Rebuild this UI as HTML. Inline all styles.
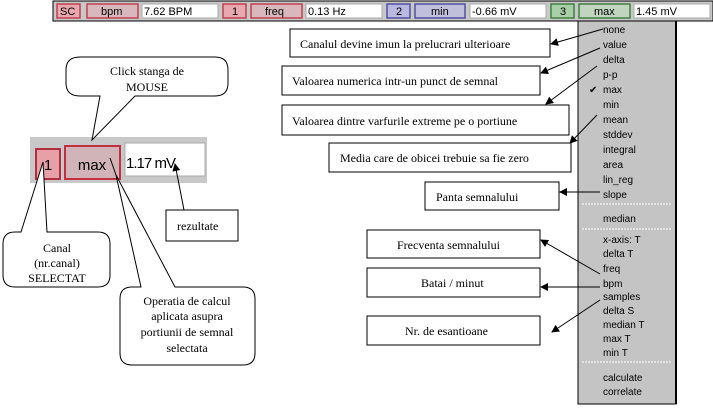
<!DOCTYPE html>
<html><head><meta charset="utf-8"><style>
html,body{margin:0;padding:0;background:#fff;}
svg{display:block;}
.s{font-family:"Liberation Serif",serif;font-size:12px;fill:#000;}
.m{font-family:"Liberation Sans",sans-serif;font-size:10px;fill:#000;}
.t{font-family:"Liberation Sans",sans-serif;font-size:11px;fill:#000;}
.w{font-family:"Liberation Sans",sans-serif;font-size:15px;fill:#000;}
</style></head><body>
<svg width="713" height="413" viewBox="0 0 713 413" xmlns="http://www.w3.org/2000/svg">
<defs><marker id="a" markerWidth="8" markerHeight="8" refX="7" refY="4" orient="auto" markerUnits="userSpaceOnUse"><path d="M0,0 L8,4 L0,8 z" fill="#000"/></marker></defs>
<rect x="53" y="1" width="660" height="20" fill="#c8c8c8" stroke="#000" stroke-width="1"/>
<g stroke="#c04050" stroke-width="1.5">
<rect x="57" y="4" width="23" height="14" fill="#e8a8b0"/>
<rect x="87" y="4" width="51" height="14" fill="#d8b8bc"/>
<rect x="223" y="4" width="23" height="14" fill="#e8a8b0"/>
<rect x="251" y="4" width="51" height="14" fill="#d8b8bc"/>
</g>
<g stroke="#5050a0" stroke-width="1.5">
<rect x="387" y="4" width="23" height="14" fill="#b8b8e0"/>
<rect x="415" y="4" width="50" height="14" fill="#c0c0dc"/>
</g>
<g stroke="#408040" stroke-width="1.5">
<rect x="551" y="4" width="23" height="14" fill="#a8d0a8"/>
<rect x="579" y="4" width="51" height="14" fill="#c0d4c0"/>
</g>
<g fill="#fff" stroke="#aaa"><rect x="142" y="4" width="76" height="14"/><rect x="306" y="4" width="76" height="14"/><rect x="470" y="4" width="76" height="14"/><rect x="634" y="4" width="76" height="14"/></g>
<text class="t" x="60" y="15">SC</text><text class="t" x="101" y="15">bpm</text><text class="t" x="144" y="15">7.62 BPM</text>
<text class="t" x="232" y="15">1</text><text class="t" x="265" y="15">freq</text><text class="t" x="308" y="15">0.13 Hz</text>
<text class="t" x="396" y="15">2</text><text class="t" x="431" y="15">min</text><text class="t" x="472" y="15">-0.66 mV</text>
<text class="t" x="560" y="15">3</text><text class="t" x="594" y="15">max</text><text class="t" x="636" y="15">1.45 mV</text>
<rect x="578" y="21" width="98" height="383" fill="#c4c4c4" stroke="#000" stroke-width="1"/>
<line x1="676" y1="21" x2="676" y2="404" stroke="#000" stroke-width="2"/>
<g stroke="#fff" stroke-dasharray="2,1"><line x1="582" y1="204" x2="672" y2="204"/><line x1="582" y1="229" x2="672" y2="229"/><line x1="582" y1="362" x2="672" y2="362"/></g>
<g class="m">
<text x="603" y="33">none</text><text x="603" y="48">value</text><text x="603" y="63">delta</text><text x="603" y="78">p-p</text>
<text x="603" y="93">max</text><text x="603" y="108">min</text><text x="603" y="123">mean</text><text x="603" y="138">stddev</text>
<text x="603" y="153">integral</text><text x="603" y="168">area</text><text x="603" y="183">lin_reg</text><text x="603" y="198">slope</text>
<text x="603" y="222">median</text>
<text x="603" y="243">x-axis: T</text><text x="603" y="257">delta T</text><text x="603" y="272">freq</text><text x="603" y="287">bpm</text>
<text x="603" y="300">samples</text><text x="603" y="314">delta S</text><text x="603" y="328">median T</text><text x="603" y="342">max T</text><text x="603" y="356">min T</text>
<text x="603" y="381">calculate</text><text x="603" y="395">correlate</text>
</g>
<text x="589" y="93" style="font-size:10px;font-family:'DejaVu Sans',sans-serif">✔</text>
<g fill="#fff" stroke="#000">
<rect x="290" y="29" width="260" height="28"/>
<rect x="282" y="66" width="258" height="29"/>
<rect x="282" y="105" width="287" height="30"/>
<rect x="329" y="143" width="242" height="29"/>
<rect x="425" y="182" width="134" height="28"/>
<rect x="367" y="230" width="173" height="28"/>
<rect x="367" y="268" width="173" height="29"/>
<rect x="367" y="316" width="173" height="29"/>
</g>
<g class="s">
<text x="300" y="48">Canalul devine imun la prelucrari ulterioare</text>
<text x="292" y="85">Valoarea numerica intr-un punct de semnal</text>
<text x="292" y="125">Valoarea dintre varfurile extreme pe o portiune</text>
<text x="340" y="162">Media care de obicei trebuie sa fie zero</text>
<text x="436" y="201">Panta semnalului</text>
<text x="397" y="249">Frecventa semnalului</text>
<text x="421" y="287">Batai / minut</text>
<text x="405" y="335">Nr. de esantioane</text>
</g>
<g stroke="#000" fill="none" marker-end="url(#a)">
<line x1="603" y1="29" x2="551" y2="44"/>
<line x1="600" y1="48" x2="541" y2="73"/>
<line x1="597" y1="66" x2="546" y2="104"/>
<line x1="597" y1="115" x2="570" y2="143"/>
<line x1="600" y1="192" x2="560" y2="192"/>
<line x1="600" y1="274" x2="541" y2="240"/>
<line x1="600" y1="287" x2="541" y2="287"/>
<line x1="600" y1="300" x2="552" y2="332"/>
</g>
<rect x="30" y="137" width="177" height="46" fill="#c8c8c8"/>
<rect x="36" y="149" width="24" height="30" fill="#e8a0a8" stroke="#b03040" stroke-width="2"/>
<rect x="65" y="146" width="55" height="33" fill="#d0b4b8" stroke="#c03040" stroke-width="2"/>
<rect x="125" y="143" width="80" height="33" fill="#fff" stroke="#aaa"/>
<text class="w" x="48" y="170" text-anchor="middle">1</text>
<text class="w" x="92" y="170" text-anchor="middle">max</text>
<text class="w" x="126" y="168" textLength="50">1.17 mV</text>
<path d="M80,57 H215 Q228,57 228,70 V83 Q228,96 215,96 H135 L92,140 L100,96 H80 Q66,96 66,83 V70 Q66,57 80,57 Z" fill="#fff" stroke="#000"/>
<text class="s" x="147" y="75" text-anchor="middle">Click stanga de</text>
<text class="s" x="147" y="91" text-anchor="middle">MOUSE</text>
<path d="M15,232 H21 L43,162 L47,232 H98 Q110,232 110,244 V275 Q110,287 98,287 H15 Q3,287 3,275 V244 Q3,232 15,232 Z" fill="#fff" stroke="#000"/>
<text class="s" x="57" y="252" text-anchor="middle">Canal</text>
<text class="s" x="57" y="267" text-anchor="middle">(nr.canal)</text>
<text class="s" x="57" y="282" text-anchor="middle">SELECTAT</text>
<path d="M132,287 H141 L116,175 L175,287 H243 Q255,287 255,299 V353 Q255,365 243,365 H132 Q120,365 120,353 V299 Q120,287 132,287 Z" fill="#fff" stroke="#000"/>
<line x1="116" y1="175" x2="110" y2="158" stroke="#000"/>
<text class="s" x="187" y="305" text-anchor="middle">Operatia de calcul</text>
<text class="s" x="187" y="320" text-anchor="middle">aplicata asupra</text>
<text class="s" x="187" y="336" text-anchor="middle">portiunii de semnal</text>
<text class="s" x="187" y="352" text-anchor="middle">selectata</text>
<rect x="166" y="210" width="72" height="31" fill="#fff" stroke="#000"/>
<text class="s" x="177" y="230">rezultate</text>
<line x1="184" y1="210" x2="175" y2="164" stroke="#000" marker-end="url(#a)"/>
</svg>
</body></html>
